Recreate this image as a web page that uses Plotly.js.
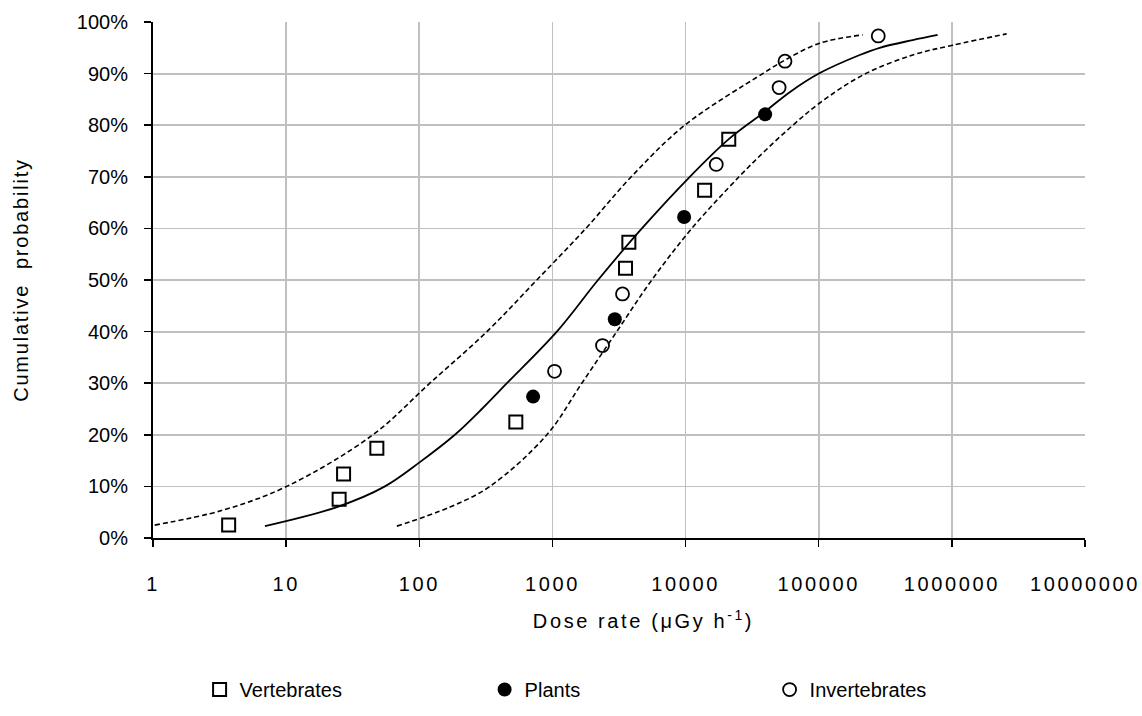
<!DOCTYPE html>
<html>
<head>
<meta charset="utf-8">
<script src="https://cdn.plot.ly/plotly-3.0.1.min.js"></script>
<style>
html,body{margin:0;padding:0;background:#fff;}
#chart{width:1142px;height:716px;}
#chart g.xtick text{letter-spacing:2.6px;}
#chart text.xtitle{letter-spacing:2.6px;}
#chart text.ytitle{letter-spacing:1.8px;}
</style>
</head>
<body>
<div id="chart"></div>
<script>
// Observed species sensitivity data (dose rate, cumulative probability)
const vertebratesDose = [3.7, 25, 27, 48, 531, 3540, 3750, 13900, 21100];
const vertebratesProb = [0.025, 0.075, 0.124, 0.174, 0.225, 0.523, 0.573, 0.674, 0.773];
const plantsDose = [716, 2940, 9750, 39600];
const plantsProb = [0.274, 0.424, 0.622, 0.821];
const invertebratesDose = [1037, 2378, 3360, 17000, 50400, 55800, 280000];
const invertebratesProb = [0.323, 0.373, 0.473, 0.724, 0.873, 0.924, 0.973];

// Fitted distribution (solid)
const fitDose = [6.93, 24.1, 55.2, 101, 185, 295, 455, 1079, 2200, 4700, 10760, 21100, 39350, 60560, 101800, 203200, 287000, 508000, 782000];
const fitProb = [0.023, 0.060, 0.10, 0.147, 0.20, 0.25, 0.30, 0.40, 0.50, 0.60, 0.70, 0.773, 0.826, 0.864, 0.901, 0.936, 0.950, 0.965, 0.975];

// Upper confidence band (dashed, left)
const upperDose = [1.03, 3.35, 10.1, 44.8, 120, 322, 763, 1782, 3908, 9860, 38000, 55600, 101800, 213800];
const upperProb = [0.025, 0.054, 0.10, 0.20, 0.30, 0.40, 0.50, 0.60, 0.70, 0.80, 0.90, 0.926, 0.959, 0.975];

// Lower confidence band (dashed, right)
const lowerDose = [67.9, 170, 339, 908, 1663, 3041, 5574, 11140, 25200, 39400, 64000, 101800, 213800, 508000, 1014000, 2578000];
const lowerProb = [0.023, 0.060, 0.10, 0.20, 0.30, 0.40, 0.50, 0.60, 0.70, 0.75, 0.80, 0.843, 0.897, 0.936, 0.955, 0.977];

const xTickVals = [1, 10, 100, 1000, 10000, 100000, 1000000, 10000000];
const xTickText = ['1', '10', '100', '1000', '10000', '100000', '1000000', '10000000'];

const FONT = 'Liberation Sans, Arial, sans-serif';

const traces = [
  {x: upperDose, y: upperProb, mode: 'lines', line: {color: '#000', width: 1.6, dash: '5px,3px', shape: 'spline', smoothing: 1}, showlegend: false, hoverinfo: 'skip'},
  {x: lowerDose, y: lowerProb, mode: 'lines', line: {color: '#000', width: 1.6, dash: '5px,3px', shape: 'spline', smoothing: 1}, showlegend: false, hoverinfo: 'skip'},
  {x: fitDose, y: fitProb, mode: 'lines', line: {color: '#000', width: 1.8, shape: 'spline', smoothing: 1}, showlegend: false, hoverinfo: 'skip'},
  {x: vertebratesDose, y: vertebratesProb, mode: 'markers', name: 'Vertebrates',
   marker: {symbol: 'square-open', size: 13, color: '#000', line: {width: 2, color: '#000'}}},
  {x: plantsDose, y: plantsProb, mode: 'markers', name: 'Plants',
   marker: {symbol: 'circle', size: 14, color: '#000', line: {width: 0}}},
  {x: invertebratesDose, y: invertebratesProb, mode: 'markers', name: 'Invertebrates',
   marker: {symbol: 'circle-open', size: 13, color: '#000', line: {width: 1.8, color: '#000'}}}
];

const layout = {
  width: 1142, height: 716,
  margin: {l: 153, r: 57, t: 22, b: 178},
  paper_bgcolor: '#fff', plot_bgcolor: '#fff',
  font: {family: FONT, size: 20, color: '#000'},
  xaxis: {
    type: 'log', range: [0, 7],
    tickvals: xTickVals, ticktext: xTickText,
    showgrid: true, gridcolor: '#c0c0c0', gridwidth: 1.8,
    showline: true, linecolor: '#000', linewidth: 2,
    ticks: 'outside', ticklen: 7, tickwidth: 1.5, tickcolor: '#000',
    ticklabelstandoff: 20,
    tickfont: {family: FONT, size: 20, color: '#000'},
    zeroline: false, mirror: false, automargin: false,
    title: {text: '&nbsp;&nbsp;&nbsp;&nbsp;&nbsp;&nbsp;Dose rate (μGy h<sup>-1</sup>)', font: {family: FONT, size: 20, color: '#000'}, standoff: 20}
  },
  yaxis: {
    range: [0, 1], dtick: 0.1, tickformat: '.0%',
    showgrid: true, gridcolor: '#c0c0c0', gridwidth: 1.8,
    showline: true, linecolor: '#000', linewidth: 2,
    ticks: 'outside', ticklen: 7, tickwidth: 1.5, tickcolor: '#000',
    ticklabelstandoff: 12,
    tickfont: {family: FONT, size: 20, color: '#000'},
    zeroline: false, automargin: false,
    title: {text: 'Cumulative&nbsp; probability', font: {family: FONT, size: 20, color: '#000'}, standoff: 43}
  },
  legend: {
    orientation: 'h', xref: 'paper', x: 0.05, xanchor: 'left',
    yref: 'container', y: 0.0642, yanchor: 'top',
    font: {family: FONT, size: 20, color: '#000'},
    itemwidth: 30, entrywidth: 240, entrywidthmode: 'pixels',
    bgcolor: 'rgba(0,0,0,0)'
  },
  showlegend: true
};

Plotly.newPlot('chart', traces, layout, {displayModeBar: false, staticPlot: true});
</script>
</body>
</html>
